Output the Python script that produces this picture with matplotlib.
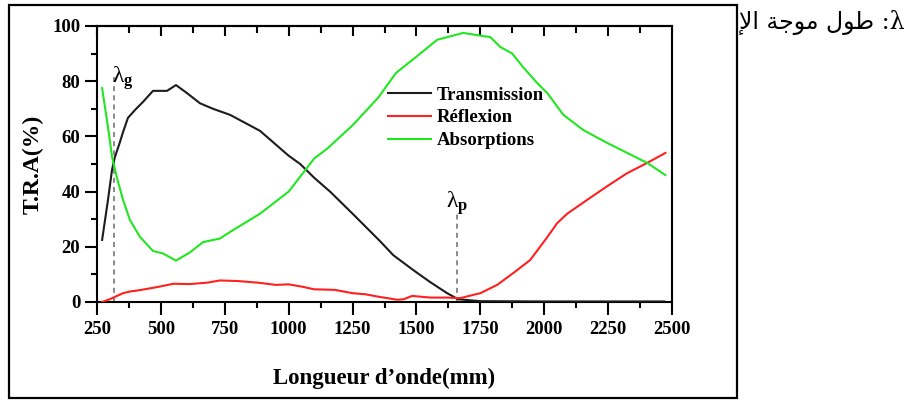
import matplotlib
matplotlib.use("Agg")
import matplotlib.pyplot as plt
from matplotlib.patches import Rectangle
from matplotlib.ticker import MultipleLocator

plt.rcParams['font.family'] = ['Liberation Serif', 'DejaVu Sans']
plt.rcParams['mathtext.fontset'] = 'custom'
plt.rcParams['mathtext.rm'] = 'Liberation Serif'
plt.rcParams['mathtext.bf'] = 'Liberation Serif:bold'
plt.rcParams['mathtext.it'] = 'Liberation Serif:italic'

# ---- data ----
trans_x = [270, 293, 309, 320, 340, 352, 371, 399, 430, 469, 524, 559, 602, 653, 704,
           771, 888, 1000, 1045, 1100, 1162, 1250, 1358, 1409, 1487, 1554, 1620, 1663,
           1750, 2000, 2250, 2470]
trans_y = [22.5, 37, 48, 52.5, 58, 61.6, 66.7, 69.6, 72.5, 76.5, 76.5, 78.6, 75.7, 72, 70,
           67.8, 62, 53, 50, 45, 40, 32, 22, 17, 11.6, 7.2, 3.2, 1.0,
           0.3, 0.2, 0.2, 0.2]

refl_x = [270, 300, 352, 379, 418, 485, 548, 614, 680, 731, 800, 880, 950, 1000, 1050,
          1100, 1180, 1250, 1300, 1358, 1400, 1425, 1450, 1483, 1554, 1620, 1671, 1750,
          1816, 1879, 1945, 2012, 2050, 2090, 2168, 2247, 2325, 2403, 2474]
refl_y = [0, 1.0, 3.2, 3.8, 4.3, 5.4, 6.6, 6.5, 7.0, 7.8, 7.6, 7.0, 6.2, 6.4, 5.6,
          4.6, 4.4, 3.2, 2.8, 1.8, 1.2, 0.8, 1.0, 2.2, 1.6, 1.6, 1.4, 3.2,
          6.2, 10.5, 15.2, 23.5, 28.5, 32, 37, 42, 46.7, 50.4, 54]

abs_x = [270, 293, 309, 328, 352, 379, 418, 469, 508, 559, 614, 665, 731, 771, 888,
         1000, 1050, 1100, 1150, 1250, 1350, 1420, 1515, 1581, 1683, 1757, 1789, 1828,
         1875, 1918, 1973, 2012, 2075, 2153, 2247, 2325, 2403, 2474]
abs_y = [77.5, 63.4, 52.5, 45, 37, 29.7, 23.6, 18.5, 17.6, 15, 18, 21.7, 23, 25.4, 32,
         40, 46, 52, 55.5, 64, 74, 83, 90, 95, 97.5, 96.4, 96, 92.4,
         90, 85, 79.3, 75.7, 67.8, 62.3, 57.6, 54, 50.4, 46]

series_names = ['Transmission', 'Réflexion', 'Absorptions']
series_colors = ['#1c1c1c', '#ff2020', '#22e622']

lambda_g = 317
lambda_g_top = 82
lambda_p = 1660
lambda_p_top = 32

x_ticks = [250, 500, 750, 1000, 1250, 1500, 1750, 2000, 2250, 2500]
y_ticks = [0, 20, 40, 60, 80, 100]

# ---- figure ----
fig = plt.figure(figsize=(9.08, 4.01), dpi=100)

# Arabic note (visual order, presentation forms)
fig.text(0.9967, 0.945, 'ﻹﺍ ﺔﺟﻮﻣ ﻝﻮﻃ :λ', ha='right', va='center', fontsize=17,
         family=['DejaVu Serif', 'DejaVu Sans'], zorder=0.2)

# white framed box holding the chart
fig.patches.append(Rectangle((9 / 908, 1 - 398 / 401), 728 / 908, 393 / 401,
                             transform=fig.transFigure, facecolor='white',
                             edgecolor='black', linewidth=1.6, zorder=0.5))

ax = fig.add_axes([97 / 908, 1 - 302 / 401, (672 - 97) / 908, (302 - 26) / 401])
ax.set_zorder(1)

for xs, ys, c, n in zip([trans_x, refl_x, abs_x], [trans_y, refl_y, abs_y],
                        series_colors, series_names):
    ax.plot(xs, ys, color=c, lw=1.5, label=n, zorder=3)

ax.plot([lambda_g, lambda_g], [0, lambda_g_top], color='#777777', lw=1.2,
        ls=(0, (3, 2.5)), zorder=2)
ax.plot([lambda_p, lambda_p], [0, lambda_p_top], color='#777777', lw=1.2,
        ls=(0, (3, 2.5)), zorder=2)
ax.text(lambda_g - 8, lambda_g_top - 1, r'$\mathrm{λ}_\mathbf{g}$', fontsize=17,
        ha='left', va='center')
ax.text(lambda_p - 45, lambda_p_top + 4, r'$\mathrm{λ}_\mathbf{p}$', fontsize=17,
        ha='left', va='center')

ax.set_xlim(250, 2500)
ax.set_ylim(0, 100)
ax.set_xticks(x_ticks)
ax.set_yticks(y_ticks)
ax.xaxis.set_minor_locator(MultipleLocator(125))
ax.yaxis.set_minor_locator(MultipleLocator(10))
ax.tick_params(axis='both', which='major', direction='out', length=9, width=1.5,
               labelsize=13.5)
ax.tick_params(axis='both', which='minor', direction='out', length=4.5, width=1.5)
ax.tick_params(axis='x', pad=5)
ax.tick_params(axis='y', pad=3)
for lab in ax.get_xticklabels() + ax.get_yticklabels():
    lab.set_fontweight('bold')

secx = ax.secondary_xaxis('top')
secx.set_xticks(x_ticks)
secx.xaxis.set_minor_locator(MultipleLocator(125))
secx.tick_params(which='major', direction='in', length=7, width=1.5, labeltop=False)
secx.tick_params(which='minor', direction='in', length=5, width=1.5)
secx.spines['top'].set_linewidth(1.5)

for s in ax.spines.values():
    s.set_linewidth(1.5)

ax.set_ylabel('T.R.A(%)', fontsize=17, fontweight='bold', labelpad=6)
ax.set_xlabel('Longueur d’onde(mm)', fontsize=16.5, fontweight='bold', labelpad=21)

leg = ax.legend(loc='upper left', bbox_to_anchor=(0.493, 0.808), frameon=False,
                prop={'family': 'Liberation Serif', 'weight': 'bold', 'size': 13.5},
                handlelength=2.3, handletextpad=0.3, labelspacing=0.3,
                borderaxespad=0)

fig.savefig('out.png', dpi=100)
